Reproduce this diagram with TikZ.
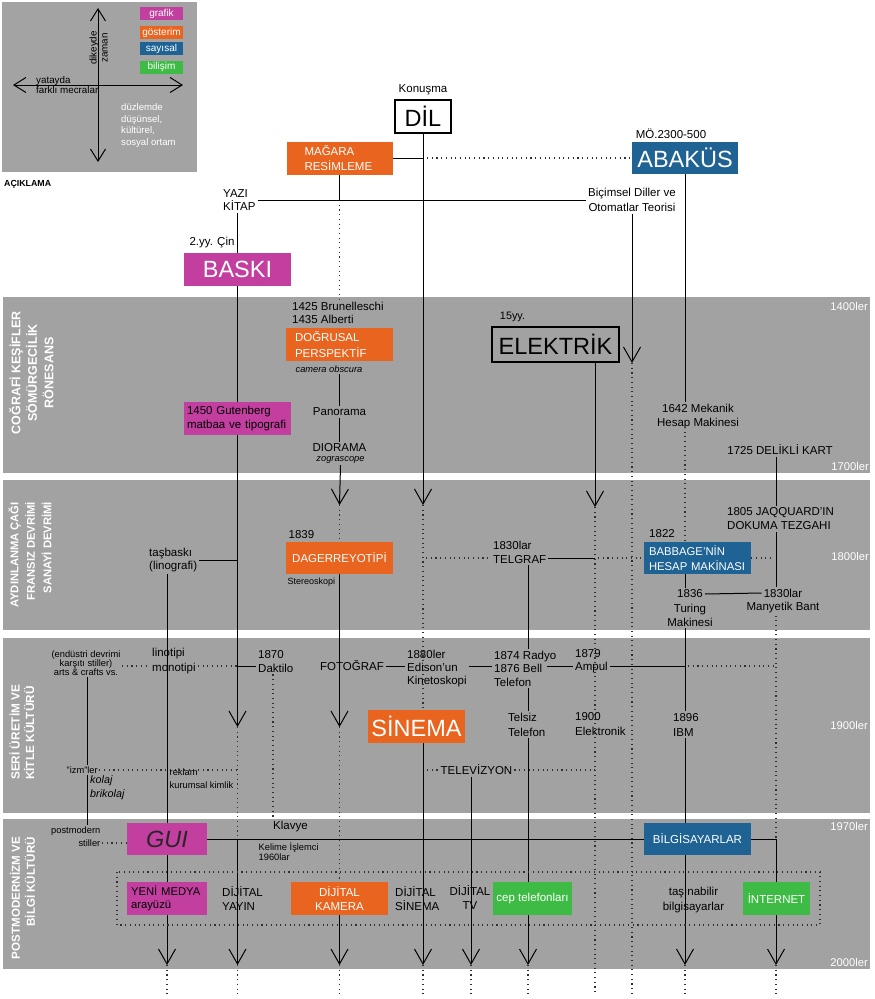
\documentclass[tikz,border=0pt]{standalone}
\usepackage{fontspec}
\setmainfont{Liberation Sans}
\usetikzlibrary{arrows.meta}
\definecolor{bandgray}{HTML}{A2A2A2}
\definecolor{leggray}{HTML}{A3A3A3}
\definecolor{magc}{HTML}{C23FA0}
\definecolor{orgc}{HTML}{E8641F}
\definecolor{bluc}{HTML}{1F6394}
\definecolor{grnc}{HTML}{3DBB45}
\definecolor{dotc}{HTML}{303030}
\pgfdeclarelayer{backlayer}
\pgfdeclarelayer{linelayer}
\pgfsetlayers{backlayer,linelayer,main}
\newcommand{\myfs}[2]{\fontsize{#1pt}{#2pt}\selectfont}
\hyphenpenalty=10000
\exhyphenpenalty=10000
\tikzset{
  ln/.style={line width=1pt, draw=black},
  dt/.style={line width=1.1pt, draw=dotc, dash pattern=on 1.1pt off 3.6pt},
  arr/.style={-{Straight Barb[length=15pt,width=17pt]}},
  larr/.style={{Straight Barb[length=12pt,width=15pt]}-{Straight Barb[length=12pt,width=15pt]}},
  lbl/.style={inner sep=2pt, font=\myfs{11.5}{13.5}, text=black},
  sml/.style={inner sep=1.5pt, font=\myfs{9.3}{10.5}, text=black},
  cbox/.style={inner ysep=0pt, inner xsep=0pt, minimum height=33pt, text=white, font=\myfs{11.5}{15}},
  bigt/.style={font=\myfs{23.5}{26}},
  yearlbl/.style={anchor=east, text=white, font=\myfs{11.2}{13}, inner sep=0pt},
  bandlbl/.style={rotate=90, text=white, inner sep=0pt},
  legbox/.style={minimum width=43pt, minimum height=13pt, inner sep=0pt, text=white, font=\myfs{10}{11}},
}
\begin{document}
\begin{tikzpicture}[x=1pt,y=-1pt]
\useasboundingbox (0,0) rectangle (875,999);

% ---------- legend ----------
\node[legbox, fill=magc] (lg1) at (161.5,13.5) {grafik};
\node[legbox, fill=orgc] (lg2) at (161.5,32.5) {gösterim};
\node[legbox, fill=bluc] (lg3) at (161.5,48.5) {sayısal};
\node[legbox, fill=grnc] (lg4) at (161.5,67) {bilişim};
\coordinate (lvt) at (98,8);
\coordinate (lvb) at (98,162);
\coordinate (lhl) at (13,85);
\coordinate (lhr) at (183,85);
\node[rotate=90, align=center, inner sep=0pt, font=\myfs{9.8}{11}] (dikey) at (98.5,48) {dikeyde\\zaman};
\node[anchor=west, align=left, inner sep=0pt, font=\myfs{9.8}{10.5}] (yatay) at (36,85) {yatayda\\farklı mecralar};
\node[anchor=west, align=left, inner sep=0pt, text=white, font=\myfs{9.6}{11.6}] (duz) at (121,125.5) {düzlemde\\düşünsel,\\kültürel,\\sosyal ortam};
\node[anchor=west, inner sep=0pt, font=\bfseries\myfs{8.8}{10}] (acik) at (4,184) {AÇIKLAMA};

% ---------- columns / helpers ----------
\coordinate (x87) at (87,0);
\coordinate (x167) at (167,0);
\coordinate (x237) at (237.5,0);
\coordinate (x273) at (273,0);
\coordinate (x340) at (339.5,0);
\coordinate (x423) at (423,0);
\coordinate (x471) at (471,0);
\coordinate (x528) at (528,0);
\coordinate (x595) at (595,0);
\coordinate (x632) at (632,0);
\coordinate (x685) at (685,0);
\coordinate (x776) at (776,0);
\coordinate (r558) at (0,558);
\coordinate (r666) at (0,666);
\coordinate (r843) at (0,843);
\coordinate (bot) at (0,995);
\coordinate (t632) at (632,363);
\coordinate (t340a) at (339.5,505);
\coordinate (t423a) at (423,505);
\coordinate (t595a) at (595,507);
\coordinate (t237b) at (237.5,727);
\coordinate (t340b) at (339.5,727);
\coordinate (t167) at (167,965);
\coordinate (t237c) at (237.5,965);
\coordinate (t340c) at (339.5,965);
\coordinate (t423c) at (423,965);
\coordinate (t471) at (471,965);
\coordinate (t528) at (528,965);
\coordinate (t685) at (685,965);
\coordinate (t776) at (776,965);

% ---------- top ----------
\node[lbl] (konusma) at (423,90) {Konuşma};
\node[draw, line width=1.2pt, fill=white, minimum width=56pt, minimum height=33pt, inner sep=0pt, bigt] (dil) at (423,116.5) {DİL};
\node[cbox, fill=orgc, minimum width=106pt, align=left, text width=70pt, inner xsep=18pt] (magara) at (339.5,158) {MAĞARA\\RESİMLEME};
\node[cbox, fill=bluc, minimum width=106pt, minimum height=32pt, bigt] (abakus) at (685,158) {ABAKÜS};
\node[lbl] (mo) at (671,134) {MÖ.2300-500};
\node[lbl, anchor=west, align=left] (yazi) at (221,200) {YAZI\\KİTAP};
\node[lbl, align=center, font=\myfs{11.5}{14.5}] (bicim) at (632,200) {Biçimsel Diller ve\\Otomatlar Teorisi};
\node[lbl] (cin) at (212,243) {2.yy. Çin};
\node[cbox, fill=magc, minimum width=107pt, bigt] (baski) at (237.5,269.5) {BASKI};

% ---------- band 1 ----------
\node[lbl, anchor=west, align=left, font=\myfs{11.5}{12.7}] (brun) at (290,313) {1425 Brunelleschi\\1435 Alberti};
\node[cbox, fill=orgc, minimum width=107pt, align=left, text width=89pt, inner xsep=9pt, font=\myfs{11.5}{15.7}] (dogru) at (339.5,344.5) {DOĞRUSAL\\PERSPEKTİF};
\node[sml, font=\itshape\myfs{9.3}{10.5}] (camera) at (329,369) {camera obscura};
\node[lbl] (pano) at (339.5,412) {Panorama};
\node[lbl] (diorama) at (339.5,448) {DIORAMA};
\node[sml, font=\itshape\myfs{9.3}{10.5}] (zogra) at (340.5,460) {zograscope};
\node[cbox, fill=magc, minimum width=107pt, align=left, text width=101pt, inner xsep=3pt, text=black, font=\myfs{11.5}{13.3}] (guten) at (237.5,418.5) {\mbox{1450 Gutenberg}\\\mbox{matbaa ve tipografi}};
\node[draw, line width=1.2pt, minimum width=127pt, minimum height=35pt, inner sep=0pt, bigt] (elek) at (555.5,344.5) {ELEKTRİK};
\node[lbl, font=\myfs{10.8}{12}] (yy15) at (512.5,317) {15yy.};
\node[lbl, align=center, font=\myfs{11.5}{14}] (mek) at (698,417) {1642 Mekanik\\Hesap Makinesi};
\node[lbl] (kart) at (780,450) {1725 DELİKLİ KART};

% ---------- band 2 ----------
\node[lbl, anchor=west, align=left] (tas) at (147,560) {taşbaskı\\(linografi)};
\node[lbl] (y1839) at (301.5,535) {1839};
\node[cbox, fill=orgc, minimum width=107pt, minimum height=32pt, text=white] (dager) at (339.5,558) {DAGERREYOTİPİ};
\node[sml, anchor=west, font=\myfs{9}{10}] (stereo) at (286,582) {Stereoskopi};
\node[lbl, anchor=west, align=left, font=\myfs{11.5}{14}] (telgraf) at (491,552) {1830lar\\TELGRAF};
\node[lbl] (y1822) at (662,534) {1822};
\node[cbox, fill=bluc, minimum width=107pt, minimum height=32pt, align=left, text width=97pt, inner xsep=5pt, font=\myfs{11.3}{14.5}] (babbage) at (697.5,558) {\mbox{BABBAGE'NİN}\\\mbox{HESAP MAKİNASI}};
\node[lbl] (n1836) at (690,594) {1836};
\node[lbl, align=center, font=\myfs{11.5}{14}] (turmak) at (690,615) {Turing\\Makinesi};
\node[lbl, anchor=west, align=left, font=\myfs{11.5}{14}] (jaq) at (725,519) {1805 JAQQUARD'IN\\DOKUMA TEZGAHI};
\node[lbl] (n1830m) at (783,593) {1830lar};
\node[lbl] (manyetik) at (783,608) {Manyetik Bant};

% ---------- band 3 ----------
\node[sml, align=center, font=\myfs{9.3}{9}] (arts) at (86,663) {(endüstri devrimi\\karşıtı stiller)\\arts \& crafts vs.};
\node[lbl, anchor=west, align=left, font=\myfs{11.5}{15}] (lino) at (150,661.5) {linotipi\\monotipi};
\node[lbl, anchor=west, align=left, font=\myfs{11.5}{13.3}] (dakt) at (256,661.5) {1870\\Daktilo};
\node[lbl] (foto) at (352,666) {FOTOĞRAF};
\node[lbl, anchor=west, align=left, font=\myfs{11.5}{13.4}] (edison) at (405,668.5) {1880ler\\Edison'un\\Kinetoskopi};
\node[lbl, anchor=west, align=left, font=\myfs{11.5}{13.4}] (radyo) at (492,668.5) {1874 Radyo\\1876 Bell\\Telefon};
\node[lbl, anchor=west, align=left, font=\myfs{11.5}{13.3}] (ampul) at (573,661.5) {1879\\Ampul};
\node[cbox, fill=orgc, minimum width=97pt, bigt] (sinema) at (416.5,726.5) {SİNEMA};
\node[lbl, anchor=west, align=left, font=\myfs{11.5}{15}] (telsiz) at (506,724.5) {Telsiz\\Telefon};
\node[lbl, anchor=west, align=left, font=\myfs{11.5}{15}] (elektronik) at (573,724.5) {1900\\Elektronik};
\node[lbl, anchor=west, align=left, font=\myfs{11.5}{15}] (ibm) at (671,724.5) {1896\\IBM};
\node[lbl] (tv) at (476.5,770) {TELEVİZYON};
\node[sml, anchor=west] (izm) at (65,770) {"izm"ler};
\node[sml, anchor=west, align=left, font=\myfs{9.3}{13.3}] (reklam) at (168,778.5) {reklam\\kurumsal kimlik};
\node[lbl, anchor=west, align=left, font=\itshape\myfs{10.8}{13.5}] (kolaj) at (88,787.5) {kolaj\\brikolaj};

% ---------- band 4 ----------
\node[sml, anchor=east, align=right, font=\myfs{9.3}{13}] (postm) at (102,836.5) {postmodern\\stiller};
\node[cbox, fill=magc, minimum width=80pt, minimum height=32pt, text=black!85, font=\itshape\myfs{23.5}{26}] (gui) at (167,839) {GUI};
\node[lbl, anchor=west] (klavye) at (271,827) {Klavye};
\node[sml, anchor=west, align=left, font=\myfs{9.3}{10.7}] (kelime) at (257,851.5) {Kelime İşlemci\\1960lar};
\node[cbox, fill=bluc, minimum width=107pt, minimum height=32pt] (bilg) at (697.5,839) {BİLGİSAYARLAR};
\node[cbox, fill=magc, minimum width=80pt, align=left, text width=72pt, inner xsep=4pt, text=black, font=\myfs{11.3}{13.3}] (yeni) at (167,898.5) {\mbox{YENİ MEDYA}\\\mbox{arayüzü}};
\node[lbl, anchor=west, align=left, font=\myfs{11.5}{13.3}] (dyayin) at (220,898.5) {DİJİTAL\\YAYIN};
\node[cbox, fill=orgc, minimum width=97pt, align=center, font=\myfs{11.5}{14}] (dkam) at (339.5,898.5) {DİJİTAL\\KAMERA};
\node[lbl, anchor=west, align=left, font=\myfs{11.5}{13.3}] (dsin) at (393,898.5) {DİJİTAL\\SİNEMA};
\node[lbl, align=center, font=\myfs{11.5}{14}] (dtv) at (470,897) {DİJİTAL\\TV};
\node[cbox, fill=grnc, minimum width=79pt] (cep) at (532.5,898.5) {cep telefonları};
\node[lbl, align=center, font=\myfs{11.5}{15}] (tasin) at (693.5,900.5) {taşınabilir\\bilgisayarlar};
\node[cbox, fill=grnc, minimum width=67pt] (inet) at (776.5,898.5) {İNTERNET};

% ---------- band labels & years ----------
\node[bandlbl, align=center, font=\bfseries\myfs{12.5}{16.5}] (bl1) at (31.5,373) {COĞRAFİ KEŞİFLER\\SÖMÜRGECİLİK\\RÖNESANS};
\node[bandlbl, anchor=east, align=right, font=\bfseries\myfs{11.2}{16.5}] (bl2) at (30,502) {AYDINLANMA ÇAĞI\\FRANSIZ DEVRİMİ\\SANAYİ DEVRİMİ};
\node[bandlbl, anchor=west, align=left, font=\bfseries\myfs{11.8}{14.5}] (bl3) at (22,780) {SERİ ÜRETİM VE\\KİTLE KÜLTÜRÜ};
\node[bandlbl, anchor=east, align=right, font=\bfseries\myfs{11.6}{15}] (bl4) at (22.5,837) {POSTMODERNİZM VE\\BİLGİ KÜLTÜRÜ};
\node[yearlbl] (y1400) at (868,306) {1400ler};
\node[yearlbl] (y1700) at (869,466) {1700ler};
\node[yearlbl] (y1800) at (869,556) {1800ler};
\node[yearlbl] (y1900) at (868,725) {1900ler};
\node[yearlbl] (y1970) at (868,826) {1970ler};
\node[yearlbl] (y2000) at (868,962) {2000ler};

% ---------- backgrounds ----------
\begin{pgfonlayer}{backlayer}
\fill[leggray] (2,2) rectangle (197,172);
\fill[bandgray] (3,297) rectangle (870,473);
\fill[bandgray] (3,480) rectangle (870,630);
\fill[bandgray] (3,638) rectangle (870,813);
\fill[bandgray] (3,819) rectangle (870,969);
\end{pgfonlayer}

% ---------- connectors ----------
\begin{pgfonlayer}{linelayer}
% legend axes
\draw[ln, larr] (lvt) -- (lvb);
\draw[ln, larr] (lhl) -- (lhr);
% DIL column
\draw[ln, arr] (dil.south) -- (t423a);
\draw[dt] (t423a) -- (sinema.north -| x423);
\draw[ln, arr] (sinema.south -| x423) -- (t423c);
\draw[dt] (t423c) -- (x423 |- bot);
% magara
\draw[ln] (magara.east) -- (magara.east -| x423);
\draw[dt, shorten <=4pt] (magara.east -| x423) -- (abakus.west);
\draw[ln] (magara.south) -- (x340 |- yazi.east);
\draw[dt] (x340 |- yazi.east) -- (brun.north -| x340);
% yazi line
\draw[ln] (yazi.east) -- (bicim.west);
\draw[ln] (yazi.south -| x237) -- (baski.north);
% baski column
\draw[ln, arr] (baski.south) -- (t237b);
\draw[dt] (t237b) -- (x237 |- gui.east);
\draw[ln, arr] (x237 |- gui.east) -- (t237c);
\draw[dt] (t237c) -- (x237 |- bot);
% perspektif column
\draw[ln] (camera.south -| x340) -- (pano.north);
\draw[ln] (pano.south) -- (diorama.north);
\draw[ln, arr] (zogra.south) -- (t340a);
\draw[dt] (t340a) -- (dager.north);
\draw[ln, arr] (dager.south) -- (t340b);
\draw[dt] (t340b) -- (dkam.north);
\draw[ln, arr] (dkam.south) -- (t340c);
\draw[dt] (t340c) -- (x340 |- bot);
% tasbaski
\draw[ln] (tas.east) -- (tas.east -| x237);
\draw[ln, arr] (tas.south -| x167) -- (t167);
\draw[dt] (t167) -- (x167 |- bot);
% elektrik
\draw[ln, arr] (elek.south -| x595) -- (t595a);
\draw[dt] (t595a) -- (x595 |- bot);
% bicimsel
\draw[ln, arr] (bicim.south -| x632) -- (t632);
\draw[dt] (t632) -- (x632 |- bot);
% abakus column
\draw[ln] (abakus.south) -- (mek.north -| x685);
\draw[dt] (mek.south -| x685) -- (babbage.north -| x685);
\draw[ln] (babbage.south -| x685) -- (n1836.north -| x685);
\draw[ln] (turmak.south -| x685) -- (ibm.north -| x685);
\draw[ln, arr] (ibm.south -| x685) -- (t685);
\draw[dt] (t685) -- (x685 |- bot);
% jaquard column
\draw[ln] (kart.south -| x776) -- (jaq.north -| x776);
\draw[ln] (jaq.south -| x776) -- (n1830m.north -| x776);
\draw[ln] (n1836.east) -- (n1830m.west);
\draw[dt] (manyetik.south -| x776) -- (x776 |- bilg.east);
\draw[ln, arr] (bilg.east) -| (t776);
\draw[dt] (t776) -- (x776 |- bot);
% 1800 row
\draw[dt, shorten <=3pt] (x423 |- r558) -- (telgraf.west |- r558);
\draw[ln] (telgraf.east |- r558) -- (x595 |- r558);
\draw[dt, shorten <=3pt] (x595 |- r558) -- (babbage.west);
\draw[dt, shorten >=4pt] (babbage.east) -- (x776 |- babbage.east);
% telgraf column
\draw[ln] (telgraf.south -| x528) -- (radyo.north -| x528);
\draw[ln] (radyo.south -| x528) -- (telsiz.north -| x528);
\draw[ln, arr] (telsiz.south -| x528) -- (t528);
\draw[dt] (t528) -- (x528 |- bot);
% 1900 row
\draw[dt] (arts.east |- r666) -- (lino.west |- r666);
\draw[dt] (lino.east |- r666) -- (x237 |- r666);
\draw[ln] (x237 |- r666) -- (dakt.west |- r666);
\draw[ln] (foto.east) -- (edison.west |- r666);
\draw[ln] (edison.east |- r666) -- (radyo.west |- r666);
\draw[ln] ([xshift=-11pt]radyo.east |- r666) -- (ampul.west |- r666);
\draw[ln] (ampul.east |- r666) -- (x685 |- r666);
\draw[dt, shorten <=3pt, shorten >=3pt] (x685 |- r666) -- (x776 |- r666);
\draw[dt] (dakt.south -| x273) -- (klavye.north -| x273);
% arts & crafts column
\draw[ln] (arts.south -| x87) -- (izm.north -| x87);
\draw[ln] (izm.south -| x87) -- (postm.north -| x87);
\draw[dt] (izm.east) -- (x237 |- izm.east);
% televizyon
\draw[dt, shorten <=4pt] (x423 |- tv.west) -- (tv.west);
\draw[dt] (tv.east) -- (x595 |- tv.east);
\draw[ln, arr] (tv.south -| x471) -- (t471);
\draw[dt] (t471) -- (x471 |- bot);
% band 4
\draw[dt] (postm.east |- r843) -- (gui.west |- r843);
\draw[ln] (gui.east) -- (bilg.west);
\draw[dt] (117,872) rectangle (820,925);
\end{pgfonlayer}
\end{tikzpicture}
\end{document}
